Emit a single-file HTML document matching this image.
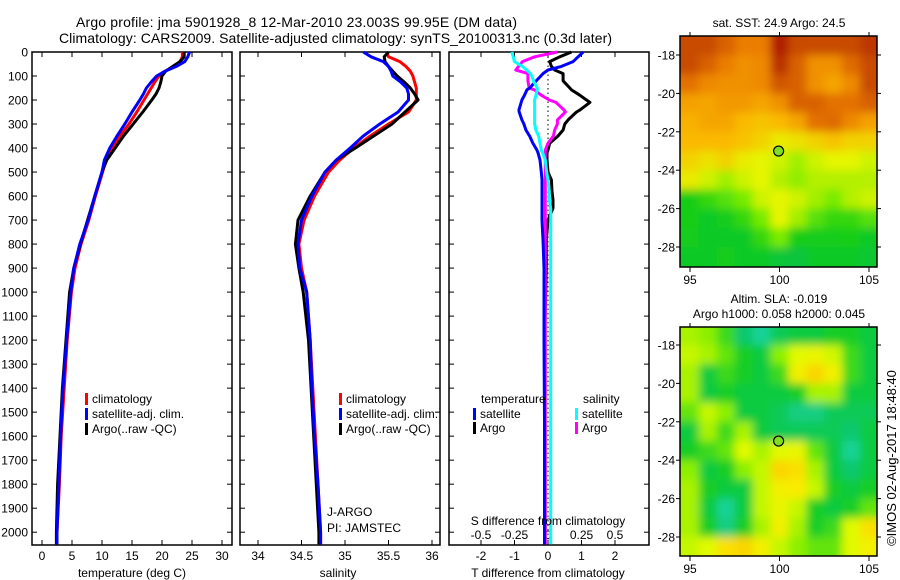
<!DOCTYPE html>
<html><head><meta charset="utf-8"><style>
body{margin:0;background:#fff}
svg{display:block;font-family:"Liberation Sans",sans-serif}
text{font-size:12px;fill:#000}
</style></head><body>
<svg id="chart" width="900" height="580" viewBox="0 0 900 580">
<defs>
<filter id="blur1" x="0" y="0" width="1" height="1"><feGaussianBlur stdDeviation="4.5"/></filter>
<clipPath id="clipm1"><rect x="680" y="36" width="197" height="231"/></clipPath>
<clipPath id="clipm2"><rect x="680" y="327" width="197" height="229"/></clipPath>
</defs>
<text x="76" y="27" textLength="441" style="font-size:14px">Argo profile: jma 5901928_8 12-Mar-2010 23.003S 99.95E (DM data)</text>
<text x="59" y="43" textLength="553" style="font-size:14px">Climatology: CARS2009. Satellite-adjusted climatology: synTS_20100313.nc (0.3d later)</text>
<g id="g1"></g>
<g id="g2"></g>
<g id="g3"></g>
<g id="m1"></g>
<g id="m2"></g>
<text transform="translate(896,458) rotate(-90)" text-anchor="middle" style="font-size:13px">©IMOS 02-Aug-2017 18:48:40</text>
</svg>
<script>
const depths=[0,20,40,60,80,100,125,150,175,200,250,300,350,400,450,500,600,700,800,900,1000,1200,1400,1600,1800,2000,2050];
const tempClim=[23.4,23.4,23,22,20.5,19.5,18.8,18.2,17.6,17,15.8,14.5,13,11.8,10.6,10.1,8.9,7.8,6.5,5.5,4.9,4.2,3.7,3.2,2.9,2.5,2.5];
const tempSat=[24.6,24.3,23.8,22.4,20.5,19.1,18.2,17.4,16.9,16.3,15,13.8,12.5,11.3,10.4,10,8.8,7.7,6.3,5.3,4.8,4.1,3.5,3.1,2.8,2.5,2.5];
const tempArgo=[23.7,23.7,23,21.8,20.6,20,19.8,19.5,19,18.3,16.8,15.2,13.6,12.2,10.8,10,8.8,7.6,6.4,5.3,4.6,4,3.4,3,2.6,2.4,2.4];
const salClim=[35.48,35.5,35.63,35.7,35.75,35.78,35.8,35.82,35.82,35.82,35.73,35.5,35.29,35.1,34.94,34.81,34.65,34.53,34.47,34.5,34.56,34.6,34.63,34.66,34.69,34.72,34.72];
const salSat=[35.21,35.3,35.44,35.5,35.53,35.55,35.64,35.71,35.73,35.73,35.61,35.4,35.21,35.06,34.9,34.77,34.62,34.5,34.46,34.48,34.56,34.6,34.62,34.65,34.69,34.72,34.72];
const salArgo=[35.5,35.45,35.46,35.5,35.55,35.6,35.68,35.75,35.8,35.84,35.69,35.54,35.33,35.12,34.9,34.77,34.6,34.46,34.43,34.47,34.52,34.58,34.61,34.64,34.67,34.7,34.7];
const diffDepths=[0,20,40,60,75,90,117,120,150,158,180,200,210,242,250,283,300,325,350,380,408,420,450,500,533,580,617,650,700,783,900,1200,1600,2000,2050];
const dTSat=[1.05,0.9,0.75,0.4,0,-0.15,-0.33,-0.35,-0.55,-0.63,-0.7,-0.78,-0.8,-0.87,-0.86,-0.78,-0.72,-0.66,-0.55,-0.45,-0.33,-0.3,-0.24,-0.2,-0.18,-0.18,-0.18,-0.18,-0.18,-0.15,-0.12,-0.12,-0.1,-0.1,-0.1];
const dTArgo=[0.7,0.35,0.05,0.1,0.2,0.45,0.45,0.45,0.65,0.7,0.95,1.15,1.25,0.95,0.85,0.6,0.5,0.45,0.3,0.05,0,-0.03,-0.03,0,0.1,0.12,0.15,0.15,0,-0.05,-0.05,-0.1,-0.1,-0.1,-0.1];
const dSSat=[-0.27,-0.26,-0.25,-0.19,-0.16,-0.13,-0.11,-0.11,-0.08,-0.08,-0.09,-0.1,-0.1,-0.1,-0.1,-0.1,-0.1,-0.09,-0.07,-0.06,-0.05,-0.04,-0.02,-0.01,0,0.01,0.01,0.02,0.02,0.02,0.02,0.02,0.02,0.02,0.02];
const dSArgo=[0.07,-0.1,-0.19,-0.22,-0.24,-0.15,-0.15,-0.15,-0.14,-0.1,-0.05,0.01,0.06,0.12,0.13,0.07,0.07,0.05,0.04,0,-0.02,-0.02,-0.02,-0.02,-0.02,-0.02,-0.02,-0.02,-0.02,-0.02,-0.02,-0.02,-0.02,-0.02,-0.02];
const depthTicks=[0,100,200,300,400,500,600,700,800,900,1000,1100,1200,1300,1400,1500,1600,1700,1800,1900,2000];
const tempTicks=[0,5,10,15,20,25,30];
const salTicks=[34,34.5,35,35.5,36];
const dTTicks=[-2,-1,0,1,2];
const dSTickLabels=["-0.5","-0.25","0","0.25","0.5"];
const dSTicks=[-0.5,-0.25,0,0.25,0.5];
const lonTicks=[95,100,105];
const latTicks=[-18,-20,-22,-24,-26,-28];
const argoLon=99.95, argoLat=-23.003;
const sstGrid=[
[0.88,0.88,0.82,0.75,0.75,0.97,0.88,0.88,0.88,0.88,0.92],
[0.88,0.82,0.75,0.7,0.72,0.93,0.82,0.7,0.7,0.8,0.88],
[0.78,0.72,0.7,0.7,0.72,0.85,0.82,0.7,0.65,0.72,0.88],
[0.66,0.65,0.68,0.68,0.65,0.7,0.82,0.82,0.78,0.78,0.82],
[0.62,0.65,0.65,0.6,0.58,0.6,0.65,0.78,0.8,0.72,0.66],
[0.6,0.6,0.6,0.58,0.55,0.5,0.52,0.55,0.58,0.55,0.55],
[0.55,0.52,0.55,0.5,0.48,0.45,0.4,0.45,0.48,0.48,0.45],
[0.5,0.45,0.4,0.45,0.48,0.42,0.38,0.42,0.42,0.42,0.42],
[0.2,0.25,0.3,0.35,0.45,0.48,0.45,0.4,0.35,0.42,0.45],
[0.2,0.15,0.18,0.25,0.35,0.48,0.4,0.3,0.25,0.25,0.3],
[0.18,0.15,0.15,0.15,0.25,0.35,0.2,0.18,0.18,0.2,0.15],
[0.15,0.15,0.18,0.15,0.15,0.1,0.08,0.15,0.15,0.15,0.12]];
const slaGrid=[
[0.55,0.5,0.4,0.2,0.1,0.25,0.3,0.3,0.35,0.35,0.3],
[0.6,0.55,0.45,0.35,0.3,0.5,0.65,0.7,0.62,0.4,0.3],
[0.55,0.3,0.4,0.35,0.3,0.4,0.75,0.9,0.75,0.4,0.3],
[0.55,0.3,0.35,0.3,0.3,0.3,0.35,0.55,0.55,0.3,0.3],
[0.45,0.6,0.5,0.3,0.3,0.25,0.15,0.15,0.25,0.25,0.25],
[0.3,0.55,0.4,0.55,0.3,0.25,0.25,0.25,0.25,0.2,0.3],
[0.35,0.4,0.45,0.65,0.55,0.65,0.7,0.45,0.3,0.1,0.3],
[0.5,0.3,0.35,0.5,0.6,0.9,0.85,0.55,0.3,0.2,0.3],
[0.55,0.35,0.3,0.3,0.6,0.75,0.8,0.6,0.35,0.3,0.35],
[0.55,0.3,0.1,0.3,0.6,0.7,0.6,0.35,0.3,0.35,0.45],
[0.55,0.35,0.15,0.35,0.55,0.75,0.55,0.35,0.4,0.65,0.85],
[0.6,0.65,0.85,0.9,0.75,0.6,0.5,0.45,0.45,0.65,0.75]];

const NS='http://www.w3.org/2000/svg';
function mk(tag,parent,attrs){const e=document.createElementNS(NS,tag);for(const k in attrs)e.setAttribute(k,attrs[k]);parent.appendChild(e);return e;}
const yD=d=>52+d*0.2401;
const TOP=52,BOT=545;
const xT=t=>42+6*t, xS=s=>258+87*(s-34), xdT=v=>548+33.5*v, xdS=v=>548+134*v;

function frame(g,x0,x1,name){
  const r=mk('rect',g,{x:x0,y:TOP,width:x1-x0,height:BOT-TOP,fill:'none',stroke:'#000','stroke-width':1.5});
  
  
}
function depthTicksDraw(g,x0,x1,labels){
  depthTicks.forEach(d=>{
    const y=yD(d);
    mk('line',g,{x1:x0,x2:x0+5,y1:y,y2:y,stroke:'#000'});
    mk('line',g,{x1:x1-5,x2:x1,y1:y,y2:y,stroke:'#000'});
    if(labels){const t=mk('text',g,{x:28,y:y+4.5,'text-anchor':'end'});t.textContent=d;
      
      }
  });
}
function xTicksDraw(g,ticks,fx,labs,ly){
  ticks.forEach((v,i)=>{const x=fx(v);
    mk('line',g,{x1:x,x2:x,y1:BOT,y2:BOT-5,stroke:'#000'});
    mk('line',g,{x1:x,x2:x,y1:TOP,y2:TOP+5,stroke:'#000'});
    const t=mk('text',g,{x:x,y:ly,'text-anchor':'middle'});t.textContent=labs?labs[i]:v;
    
    
  });
}
function line(g,vals,ds,fx,color,name){
  const d=vals.map((v,i)=>(i?'L':'M')+fx(v).toFixed(1)+','+yD(ds[i]).toFixed(1)).join('');
  const p=mk('path',g,{d:d,fill:'none',stroke:color,'stroke-width':3,'stroke-linejoin':'round'});
  
  
}
function legend(g,x,y,color,label,name){
  mk('rect',g,{x:x,y:y-10,width:3,height:12,fill:color});
  const t=mk('text',g,{x:x+7,y:y});t.textContent=label;
  
  
}
function label(g,x,y,s,name,anchor){const t=mk('text',g,{x:x,y:y,'text-anchor':anchor||'start'});t.textContent=s;
  
  }

const g1=document.getElementById('g1');
frame(g1,32,232,'temperature');
depthTicksDraw(g1,32,232,true);
xTicksDraw(g1,tempTicks,xT,null,560);
line(g1,tempClim,depths,xT,'#ff0000','temp-climatology-line');
line(g1,tempArgo,depths,xT,'#000000','temp-argo-line');
line(g1,tempSat,depths,xT,'#0000ff','temp-satellite-line');
legend(g1,85,403,'#ff0000','climatology','legend-climatology');
legend(g1,85,418,'#0000ff','satellite-adj. clim.','legend-satellite');
legend(g1,85,433,'#000000','Argo(..raw -QC)','legend-argo');
label(g1,132,577,'temperature (deg C)','x-axis-title-temperature','middle');

const g2=document.getElementById('g2');
frame(g2,240,440,'salinity');
depthTicksDraw(g2,240,440,false);
xTicksDraw(g2,salTicks,xS,null,560);
line(g2,salClim,depths,xS,'#ff0000','sal-climatology-line');
line(g2,salArgo,depths,xS,'#000000','sal-argo-line');
line(g2,salSat,depths,xS,'#0000ff','sal-satellite-line');
legend(g2,339,403,'#ff0000','climatology','legend-climatology-sal');
legend(g2,339,418,'#0000ff','satellite-adj. clim.','legend-satellite-sal');
legend(g2,339,433,'#000000','Argo(..raw -QC)','legend-argo-sal');
label(g2,327,516,'J-ARGO','data-centre-label');
label(g2,327,532,'PI: JAMSTEC','pi-label');
label(g2,338,577,'salinity','x-axis-title-salinity','middle');

const g3=document.getElementById('g3');
frame(g3,449,649,'difference');
depthTicksDraw(g3,449,649,false);
xTicksDraw(g3,dTTicks,xdT,null,560);
dSTicks.forEach((v,i)=>label(g3,xdS(v),539,dSTickLabels[i],'s-diff-tick-label','middle'));
mk('line',g3,{x1:548,x2:548,y1:TOP,y2:BOT,stroke:'#000','stroke-dasharray':'1.5,3'});
line(g3,dTArgo,diffDepths,xdT,'#000000','tdiff-argo-line');
line(g3,dSArgo,diffDepths,xdS,'#ff00ff','sdiff-argo-line');
line(g3,dTSat,diffDepths,xdT,'#0000ff','tdiff-satellite-line');
line(g3,dSSat,diffDepths,xdS,'#00ffff','sdiff-satellite-line');
label(g3,481,403,'temperature','legend-title-temperature');
legend(g3,473,418,'#0000ff','satellite','legend-t-satellite');
legend(g3,473,432,'#000000','Argo','legend-t-argo');
label(g3,583,403,'salinity','legend-title-salinity');
legend(g3,575,418,'#00ffff','satellite','legend-s-satellite');
legend(g3,575,432,'#ff00ff','Argo','legend-s-argo');
label(g3,548,525,'S difference from climatology','s-diff-axis-title','middle');
label(g3,548,577,'T difference from climatology','t-diff-axis-title','middle');

function lerpC(stops,v){v=Math.max(0,Math.min(1,v));for(let i=1;i<stops.length;i++){if(v<=stops[i][0]){const a=stops[i-1],b=stops[i],f=(v-a[0])/(b[0]-a[0]);return 'rgb('+[1,2,3].map(k=>Math.round(a[k]+(b[k]-a[k])*f)).join(',')+')';}}const l=stops[stops.length-1];return 'rgb('+l[1]+','+l[2]+','+l[3]+')';}
const sstStops=[[0,0,190,90],[0.2,20,205,20],[0.35,120,235,0],[0.48,230,245,0],[0.6,250,185,0],[0.75,235,125,0],[0.88,200,75,0],[1,165,15,0]];
const slaStops=[[0,40,220,190],[0.2,10,200,110],[0.35,20,205,40],[0.5,140,240,0],[0.65,225,250,0],[0.8,250,235,0],[1,250,190,0]];
function map(id,grid,stops,top,bot,lat18,lat28,clip,title,ty){
  const g=document.getElementById(id);
  const ll=lat=>lat18+(lat+18)*(lat28-lat18)/(-10);
  const lx=lon=>690+(lon-95)*17.9;
  const cg=mk('g',g,{'clip-path':'url(#'+clip+')'});
  const bg=mk('g',cg,{filter:'url(#blur1)'});
  mk('rect',bg,{x:660,y:top-20,width:240,height:bot-top+40,fill:lerpC(stops,grid[5][5])});
  grid.forEach((row,r)=>row.forEach((v,c)=>{
    const x0=lx(94.5+c), y0=ll(-17-r);
    const rc=mk('rect',bg,{x:c===0?x0-20:x0,y:r===0?y0-20:y0,width:(c===0||c===10)?38:18.2,height:(r===0||r===11)?ll(-18)-ll(-17)+20:ll(-18)-ll(-17)+0.5,fill:lerpC(stops,v)});
    
    
  }));
  const fr=mk('rect',g,{x:680,y:top,width:197,height:bot-top,fill:'none',stroke:'#000','stroke-width':1.5});
  
  
  lonTicks.forEach(lon=>{const x=lx(lon);
    mk('line',g,{x1:x,x2:x,y1:bot,y2:bot+5,stroke:'#000'});
    mk('line',g,{x1:x,x2:x,y1:top,y2:top-4,stroke:'#000'});
    label(g,x,bot+17,lon,'lon-tick-label','middle');});
  latTicks.forEach(lat=>{const y=ll(lat);
    mk('line',g,{x1:680,x2:676,y1:y,y2:y,stroke:'#000'});
    mk('line',g,{x1:877,x2:881,y1:y,y2:y,stroke:'#000'});
    label(g,675,y+4.5,lat,'lat-tick-label','end');});
  const c=mk('circle',g,{cx:lx(argoLon),cy:ll(argoLat),r:5,fill:'#80e020',stroke:'#000','stroke-width':1.2});
  
  
  title.forEach((s,i)=>label(g,779,ty[i],s,'map-title','middle'));
}
map('m1',sstGrid,sstStops,36,267,55,247,'clipm1',['sat. SST: 24.9 Argo: 24.5'],[27]);
map('m2',slaGrid,slaStops,327,556,345,537,'clipm2',['Altim. SLA: -0.019','Argo h1000: 0.058 h2000: 0.045'],[303,318]);
</script>
</body></html>
